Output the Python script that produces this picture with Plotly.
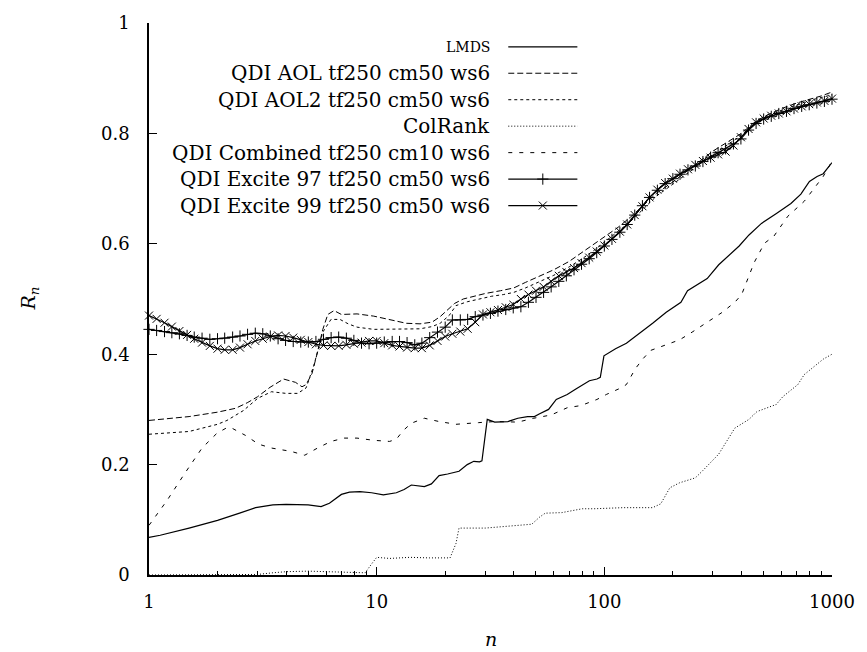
import plotly.graph_objects as go

# Shared n grid for the two marker series (log-spaced, 30 steps per decade)
n_grid = [1, 1.08, 1.17, 1.26, 1.36, 1.47, 1.58, 1.71, 1.85, 2.00,
          2.15, 2.33, 2.51, 2.71, 2.93, 3.16, 3.41, 3.69, 3.98, 4.30,
          4.64, 5.01, 5.41, 5.84, 6.31, 6.81, 7.36, 7.94, 8.58, 9.26,
          10, 10.8, 11.7, 12.6, 13.6, 14.7, 15.8, 17.1, 18.5, 20.0,
          21.5, 23.3, 25.1, 27.1, 29.3, 31.6, 34.1, 36.9, 39.8, 43.0,
          46.4, 50.1, 54.1, 58.4, 63.1, 68.1, 73.6, 79.4, 85.8, 92.6,
          100, 108, 117, 126, 136, 147, 158, 171, 185, 200,
          215, 233, 251, 271, 293, 316, 341, 369, 398, 430,
          464, 501, 541, 584, 631, 681, 736, 794, 858, 926, 1000]

excite97 = [0.445, 0.443, 0.441, 0.439, 0.437, 0.434, 0.431, 0.429, 0.427, 0.428,
            0.429, 0.431, 0.433, 0.436, 0.438, 0.437, 0.433, 0.428, 0.425, 0.423,
            0.422, 0.422, 0.423, 0.427, 0.430, 0.431, 0.429, 0.425, 0.420, 0.419,
            0.420, 0.422, 0.423, 0.423, 0.421, 0.417, 0.420, 0.430, 0.440, 0.449,
            0.462, 0.462, 0.463, 0.468, 0.471, 0.474, 0.478, 0.481, 0.484, 0.486,
            0.494, 0.503, 0.512, 0.522, 0.532, 0.542, 0.553, 0.563, 0.573, 0.584,
            0.596, 0.608, 0.621, 0.635, 0.652, 0.669, 0.684, 0.697, 0.709, 0.718,
            0.726, 0.734, 0.741, 0.749, 0.757, 0.765, 0.772, 0.781, 0.790, 0.806,
            0.818, 0.826, 0.831, 0.836, 0.840, 0.845, 0.849, 0.852, 0.855, 0.858, 0.862]

excite99 = [0.470, 0.464, 0.457, 0.450, 0.442, 0.435, 0.428, 0.421, 0.415, 0.410,
            0.408, 0.408, 0.412, 0.418, 0.424, 0.428, 0.432, 0.434, 0.433, 0.430,
            0.426, 0.422, 0.418, 0.416, 0.415, 0.415, 0.417, 0.419, 0.421, 0.424,
            0.424, 0.420, 0.416, 0.414, 0.412, 0.411, 0.411, 0.416, 0.424, 0.432,
            0.437, 0.441, 0.446, 0.458, 0.472, 0.476, 0.480, 0.485, 0.490, 0.500,
            0.508, 0.515, 0.522, 0.532, 0.542, 0.549, 0.556, 0.565, 0.575, 0.586,
            0.597, 0.609, 0.622, 0.635, 0.652, 0.668, 0.684, 0.698, 0.710, 0.718,
            0.727, 0.735, 0.743, 0.750, 0.756, 0.762, 0.767, 0.778, 0.793, 0.808,
            0.820, 0.827, 0.832, 0.836, 0.840, 0.845, 0.849, 0.853, 0.856, 0.859, 0.863]

aol_n = [1, 1.2, 1.5, 2, 2.4, 2.7, 3.0, 3.4, 3.9, 4.4, 4.7, 4.9, 5.2, 5.5, 5.8,
         6.1, 6.5, 7.0, 7.6, 8.2, 9.7, 11.4, 13.5, 15.5, 17.5, 19, 20.5, 22, 24,
         27, 30, 35, 40, 45, 50, 55, 60, 70, 80, 90, 100, 115, 130, 150, 170,
         200, 230, 260, 300, 350, 400, 450, 500, 600, 700, 800, 900, 1000]
aol = [0.280, 0.283, 0.287, 0.295, 0.302, 0.312, 0.323, 0.340, 0.355, 0.349, 0.341,
       0.345, 0.365, 0.404, 0.445, 0.472, 0.479, 0.472, 0.472, 0.473, 0.469, 0.463,
       0.456, 0.455, 0.458, 0.468, 0.480, 0.492, 0.500, 0.506, 0.510, 0.515, 0.520,
       0.530, 0.538, 0.545, 0.553, 0.568, 0.585, 0.600, 0.612, 0.630, 0.648, 0.672,
       0.692, 0.712, 0.732, 0.748, 0.768, 0.785, 0.800, 0.818, 0.830, 0.845, 0.855,
       0.862, 0.868, 0.875]

aol2_n = [1, 1.5, 2, 2.2, 2.6, 3.0, 3.45, 4.0, 4.5, 4.9, 5.3, 5.8, 6.3, 6.9, 7.5,
          8.2, 9.7, 11.4, 13.5, 15.5, 17.5, 19, 20.8, 22.3, 25, 28, 32, 36, 40, 45,
          50, 60, 70, 80, 90, 100, 115, 130, 150, 170, 200, 230, 260, 300, 350, 400,
          450, 500, 600, 700, 800, 900, 1000]
aol2 = [0.255, 0.260, 0.273, 0.280, 0.298, 0.320, 0.332, 0.329, 0.329, 0.339, 0.380,
        0.440, 0.463, 0.463, 0.455, 0.449, 0.445, 0.445, 0.445, 0.446, 0.450, 0.456,
        0.470, 0.488, 0.495, 0.500, 0.505, 0.508, 0.512, 0.520, 0.528, 0.543, 0.558,
        0.573, 0.588, 0.603, 0.622, 0.640, 0.665, 0.687, 0.708, 0.727, 0.743, 0.762,
        0.780, 0.797, 0.815, 0.827, 0.842, 0.852, 0.860, 0.865, 0.870]

lmds_n = [1, 1.12, 1.5, 2.0, 2.5, 2.94, 3.5, 4.0, 5.0, 5.7, 6.2, 7.0, 7.6, 8.45,
          9.5, 10.7, 12.2, 13.2, 14.2, 15.2, 16.2, 17.4, 18.8, 20.5, 23, 25, 26.7,
          28.3, 29, 30.6, 33, 37.7, 41.7, 46, 49.3, 52, 56.9, 61.5, 68.7, 75, 80.6,
          86, 92.8, 96, 99.6, 112, 125, 137, 148, 163, 187, 205, 217, 232, 260, 283,
          318, 353, 391, 432, 490, 570, 660, 730, 796, 860, 915, 1000]
lmds = [0.068, 0.072, 0.085, 0.099, 0.112, 0.122, 0.127, 0.128, 0.127, 0.124, 0.130,
        0.146, 0.150, 0.151, 0.149, 0.145, 0.149, 0.155, 0.163, 0.162, 0.160, 0.165,
        0.180, 0.183, 0.188, 0.200, 0.206, 0.205, 0.207, 0.282, 0.277, 0.278, 0.284,
        0.287, 0.287, 0.292, 0.300, 0.318, 0.327, 0.337, 0.345, 0.352, 0.355, 0.358,
        0.397, 0.410, 0.420, 0.432, 0.442, 0.456, 0.476, 0.488, 0.494, 0.515, 0.527,
        0.537, 0.562, 0.580, 0.596, 0.616, 0.637, 0.655, 0.673, 0.690, 0.713, 0.722,
        0.727, 0.747]

comb_n = [1, 1.2, 1.43, 1.71, 1.99, 2.18, 2.29, 2.65, 3.03, 3.45, 4.2, 4.83, 5.5,
          6.3, 7.2, 8.2, 9.7, 11.4, 12.2, 13.1, 14.2, 16.2, 18.8, 22.3, 28, 33, 41.7,
          49, 58.5, 68.7, 79, 92.8, 102, 117, 125, 137, 148, 160, 181, 214, 243, 290,
          330, 374, 401, 455, 505, 556, 640, 755, 832, 915, 985, 1000]
comb = [0.090, 0.135, 0.183, 0.230, 0.257, 0.266, 0.267, 0.253, 0.237, 0.230, 0.224,
        0.217, 0.230, 0.242, 0.248, 0.248, 0.244, 0.242, 0.246, 0.262, 0.275, 0.284,
        0.278, 0.273, 0.276, 0.278, 0.277, 0.284, 0.290, 0.303, 0.307, 0.318, 0.327,
        0.338, 0.345, 0.374, 0.392, 0.407, 0.415, 0.426, 0.440, 0.461, 0.476, 0.494,
        0.508, 0.566, 0.601, 0.614, 0.650, 0.677, 0.700, 0.722, 0.745, 0.748]

col_n = [1, 2.5, 3.0, 3.5, 4.0, 5, 6, 7, 8, 8.9, 9.5, 10, 11.4, 14, 17, 21, 22.3, 23,
         30, 35, 40, 48, 52, 55, 65, 72, 80, 90, 121, 163, 177, 194, 214, 251, 269,
         318, 344, 374, 432, 468, 569, 608, 708, 755, 915, 985, 1000]
colrank = [0.0, 0.0, 0.001, 0.004, 0.006, 0.007, 0.006, 0.006, 0.005, 0.004, 0.020,
           0.032, 0.030, 0.032, 0.031, 0.031, 0.057, 0.085, 0.085, 0.087, 0.090, 0.092,
           0.105, 0.112, 0.113, 0.117, 0.120, 0.120, 0.122, 0.122, 0.129, 0.158, 0.167,
           0.176, 0.188, 0.219, 0.242, 0.266, 0.282, 0.296, 0.309, 0.323, 0.345, 0.363,
           0.391, 0.398, 0.400]

labels = ["LMDS",
          "QDI AOL tf250 cm50 ws6",
          "QDI AOL2 tf250 cm50 ws6",
          "ColRank",
          "QDI Combined tf250 cm10 ws6",
          "QDI Excite 97 tf250 cm50 ws6",
          "QDI Excite 99 tf250 cm50 ws6"]

y_ticks = [0, 0.2, 0.4, 0.6, 0.8, 1]
y_tick_text = ["0", "0.2", "0.4", "0.6", "0.8", "1"]
x_ticks = [1, 10, 100, 1000]
x_minor = [m * d for d in (1, 10, 100) for m in range(2, 10)]

FONT = "DejaVu Serif"
INK = "#000000"

styles = [
    dict(dash="solid", width=1.2, marker=None),
    dict(dash="6px,3px", width=1.0, marker=None),
    dict(dash="3px,3px", width=1.0, marker=None),
    dict(dash="1px,2px", width=1.0, marker=None),
    dict(dash="4px,7px", width=1.0, marker=None),
    dict(dash="solid", width=1.2, marker="cross-thin-open"),
    dict(dash="solid", width=1.2, marker="x-thin-open"),
]
series = [(lmds_n, lmds), (aol_n, aol), (aol2_n, aol2), (col_n, colrank),
          (comb_n, comb), (n_grid, excite97), (n_grid, excite99)]

fig = go.Figure()
for (xs, ys), st in zip(series, styles):
    kw = dict(mode="lines")
    if st["marker"]:
        kw = dict(mode="lines+markers",
                  marker=dict(symbol=st["marker"], size=8,
                              line=dict(width=1, color=INK), color=INK))
    fig.add_trace(go.Scatter(x=xs, y=ys, line=dict(color=INK, width=st["width"],
                                                   dash=st["dash"]),
                             showlegend=False, cliponaxis=False, hoverinfo="skip", **kw))

# Key: right-aligned labels with line samples to their right (paper coordinates)
W, H = 692.0, 557.0
key_text_x = (497 - 149) / W
key_x0, key_x1 = (513 - 149) / W, (583 - 149) / W
for i, (lab, st) in enumerate(zip(labels, styles)):
    yp = (575 - (42 + 26.7 * i)) / H
    fig.add_annotation(xref="paper", yref="paper", x=key_text_x, y=yp,
                       text=lab, showarrow=False, xanchor="right", yanchor="middle",
                       font=dict(family=FONT, size=14 if lab == "LMDS" else 20, color=INK))
    fig.add_trace(go.Scatter(x=[key_x0, key_x1], y=[yp, yp], xaxis="x2", yaxis="y2",
                             mode="lines", line=dict(color=INK, width=st["width"],
                                                     dash=st["dash"]),
                             showlegend=False, hoverinfo="skip", cliponaxis=False))
    if st["marker"]:
        fig.add_trace(go.Scatter(x=[(key_x0 + key_x1) / 2], y=[yp], xaxis="x2", yaxis="y2",
                                 mode="markers",
                                 marker=dict(symbol=st["marker"], size=8, color=INK,
                                             line=dict(width=1, color=INK)),
                                 showlegend=False, hoverinfo="skip", cliponaxis=False))

fig.add_annotation(xref="paper", yref="paper", x=(27 - 149) / W, y=0.5,
                   text="<i>R</i><sub><i>n</i></sub>", textangle=-90, showarrow=False,
                   xanchor="center", yanchor="middle",
                   font=dict(family=FONT, size=19, color=INK))
fig.add_annotation(xref="paper", yref="paper", x=0.5, y=(575 - 640) / H,
                   text="<i>n</i>", showarrow=False, xanchor="center", yanchor="middle",
                   font=dict(family=FONT, size=19, color=INK))

fig.update_layout(
    width=867, height=652,
    margin=dict(l=149, r=26, t=18, b=77),
    paper_bgcolor="white", plot_bgcolor="white",
    font=dict(family=FONT, size=18, color=INK),
    xaxis=dict(type="log", range=[0, 3], tickvals=x_ticks,
               ticktext=[str(v) for v in x_ticks],
               ticks="inside", ticklen=8, tickwidth=1, tickcolor=INK,
               minor=dict(tickvals=x_minor, ticks="inside", ticklen=4, tickwidth=1,
                          tickcolor=INK),
               showline=True, linecolor=INK, linewidth=1.5, showgrid=False,
               zeroline=False, mirror=False, ticklabelstandoff=10,
               tickfont=dict(family=FONT, size=18, color=INK)),
    yaxis=dict(range=[0, 1], tickvals=y_ticks, ticktext=y_tick_text,
               ticks="inside", ticklen=8, tickwidth=1, tickcolor=INK,
               showline=True, linecolor=INK, linewidth=1.5, showgrid=False,
               zeroline=False, mirror=False, ticklabelstandoff=14,
               tickfont=dict(family=FONT, size=18, color=INK)),
    xaxis2=dict(overlaying="x", range=[0, 1], visible=False),
    yaxis2=dict(overlaying="y", range=[0, 1], visible=False),
)

fig.write_html("out.html")
